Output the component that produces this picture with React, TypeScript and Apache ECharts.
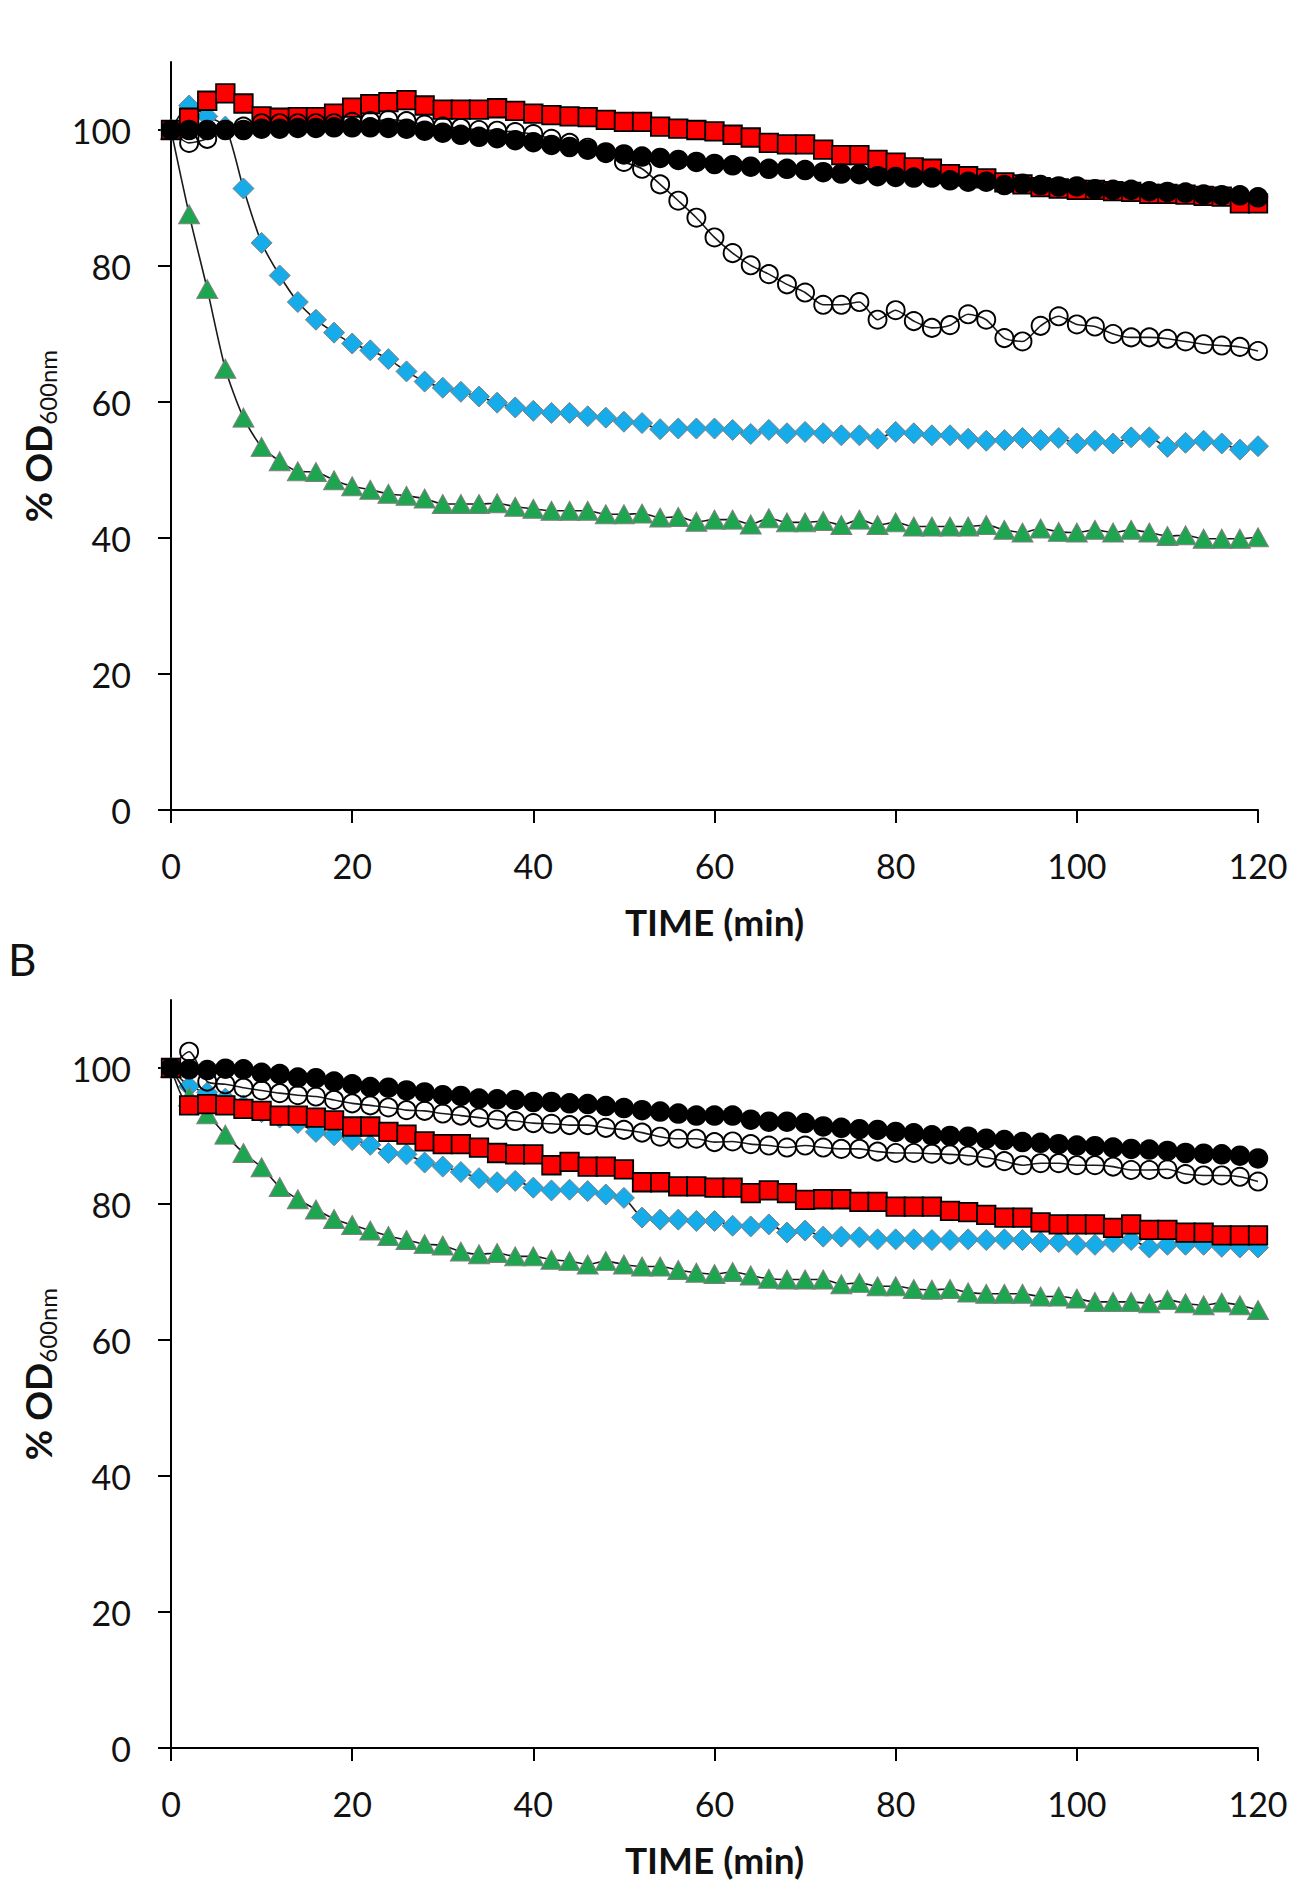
import React, { useEffect, useRef } from "react";
import * as echarts from "echarts";

const FONT = "Lato, 'Liberation Sans', sans-serif";

const TIME = [
  0, 2, 4, 6, 8, 10, 12, 14, 16, 18,
  20, 22, 24, 26, 28, 30, 32, 34, 36, 38,
  40, 42, 44, 46, 48, 50, 52, 54, 56, 58,
  60, 62, 64, 66, 68, 70, 72, 74, 76, 78,
  80, 82, 84, 86, 88, 90, 92, 94, 96, 98,
  100, 102, 104, 106, 108, 110, 112, 114, 116, 118,
  120,
];

const X_TICKS = [0, 20, 40, 60, 80, 100, 120];
const Y_TICKS = [0, 20, 40, 60, 80, 100];

// Panel A
const A_BLUE = [
  100, 103.6, 102.0, 100.5, 91.4, 83.4, 78.6, 74.7, 72.1, 70.2,
  68.6, 67.6, 66.3, 64.5, 63.0, 62.1, 61.5, 60.8, 59.9, 59.2,
  58.7, 58.4, 58.4, 57.9, 57.7, 57.1, 56.9, 56.0, 56.1, 56.1,
  56.1, 55.9, 55.3, 55.9, 55.4, 55.6, 55.4, 55.1, 55.1, 54.6,
  55.6, 55.4, 55.1, 55.1, 54.6, 54.3, 54.4, 54.7, 54.4, 54.7,
  53.9, 54.3, 53.9, 54.8, 54.8, 53.4, 54.0, 54.3, 53.9, 53.0,
  53.5,
];
const A_GREEN = [
  100, 87.6, 76.6, 64.9, 57.7, 53.4, 51.3, 49.8, 49.7, 48.5,
  47.6, 47.1, 46.5, 46.2, 45.8, 45.0, 45.0, 45.0, 45.1, 44.6,
  44.3, 44.0, 44.0, 44.0, 43.5, 43.5, 43.6, 43.0, 43.1, 42.4,
  42.7, 42.7, 42.0, 42.9, 42.3, 42.3, 42.5, 41.9, 42.7, 41.9,
  42.3, 41.7, 41.7, 41.7, 41.7, 41.9, 41.2, 40.8, 41.4, 40.9,
  40.8, 41.2, 40.8, 41.2, 40.8, 40.3, 40.4, 39.9, 39.9, 39.9,
  40.1,
];
const A_RED = [
  100, 101.8, 104.3, 105.4, 103.9, 102.0, 101.8, 101.9, 101.9, 102.4,
  103.3, 103.8, 104.1, 104.4, 103.6, 103.0, 103.0, 103.0, 103.2, 102.8,
  102.4, 102.2, 102.0, 101.9, 101.5, 101.2, 101.2, 100.5, 100.2, 100.0,
  99.8, 99.3, 98.9, 98.1, 97.9, 97.9, 97.1, 96.3, 96.3, 95.6,
  95.2, 94.5, 94.3, 93.5, 93.2, 92.9, 92.3, 92.0, 91.6, 91.4,
  91.2, 91.2, 91.0, 90.9, 90.6, 90.6, 90.5, 90.3, 90.2, 89.2,
  89.2,
];
const A_OPEN = [
  100, 98.1, 98.7, 100.0, 100.5, 101.0, 101.0, 101.0, 101.0, 101.0,
  101.2, 101.3, 101.5, 101.3, 100.8, 100.5, 100.3, 100.0, 99.9, 99.7,
  99.4, 98.7, 98.1, 97.4, 96.6, 95.3, 94.3, 92.0, 89.6, 87.1,
  84.2, 81.9, 80.1, 78.8, 77.3, 76.1, 74.3, 74.3, 74.7, 72.1,
  73.5, 71.9, 70.9, 71.3, 72.9, 72.1, 69.4, 68.9, 71.2, 72.6,
  71.4, 71.1, 70.0, 69.5, 69.5, 69.3, 68.9, 68.5, 68.3, 68.1,
  67.5,
];
const A_BLACK = [
  100, 100, 100, 100, 100, 100.2, 100.2, 100.3, 100.3, 100.4,
  100.4, 100.4, 100.3, 100.2, 99.9, 99.6, 99.3, 99.0, 98.8, 98.5,
  98.2, 97.8, 97.5, 97.1, 96.7, 96.4, 96.1, 95.9, 95.6, 95.3,
  95.0, 94.8, 94.6, 94.3, 94.3, 94.1, 93.8, 93.6, 93.5, 93.2,
  93.1, 93.0, 93.0, 92.6, 92.4, 92.4, 91.9, 92.1, 91.9, 91.7,
  91.7, 91.3, 91.2, 91.2, 91.0, 90.9, 90.8, 90.5, 90.4, 90.4,
  90.1,
];

// Panel B
const B_BLUE = [
  100, 97.3, 96.4, 95.5, 94.5, 93.5, 92.7, 91.9, 90.6, 90.1,
  89.4, 88.7, 87.5, 87.3, 86.1, 85.5, 84.7, 83.8, 83.2, 83.4,
  82.4, 82.0, 82.1, 81.9, 81.4, 80.9, 78.0, 77.7, 77.7, 77.5,
  77.5, 76.8, 76.7, 77.0, 75.8, 76.1, 75.2, 75.2, 75.1, 74.8,
  74.8, 74.8, 74.7, 74.7, 74.8, 74.7, 74.8, 74.7, 74.4, 74.4,
  74.0, 74.0, 74.4, 74.7, 73.6, 74.0, 74.0, 74.0, 73.7, 73.6,
  73.6,
];
const B_GREEN = [
  100, 95.8, 93.2, 90.2, 87.5, 85.4, 82.5, 80.7, 79.2, 77.8,
  76.9, 76.1, 75.3, 74.7, 74.1, 73.9, 73.0, 72.6, 72.8, 72.3,
  72.3, 71.8, 71.6, 71.1, 71.6, 71.1, 70.8, 70.8, 70.3, 69.9,
  69.7, 70.0, 69.5, 69.0, 68.9, 68.9, 68.9, 68.2, 68.4, 67.9,
  67.9, 67.5, 67.4, 67.5, 67.0, 66.8, 66.8, 66.8, 66.4, 66.4,
  66.1, 65.6, 65.6, 65.6, 65.4, 65.9, 65.4, 65.1, 65.5, 65.1,
  64.4,
];
const B_RED = [
  100, 94.5, 94.7, 94.5, 94.0, 93.7, 93.0, 93.0, 92.7, 92.3,
  91.4, 91.4, 90.6, 90.2, 89.2, 88.8, 88.8, 88.3, 87.5, 87.3,
  87.3, 85.7, 86.2, 85.5, 85.5, 85.1, 83.2, 83.2, 82.6, 82.6,
  82.4, 82.4, 81.6, 82.0, 81.6, 80.6, 80.7, 80.7, 80.3, 80.3,
  79.6, 79.6, 79.6, 79.0, 78.8, 78.4, 78.0, 78.0, 77.3, 77.0,
  77.0, 77.0, 76.5, 77.0, 76.2, 76.2, 75.8, 75.8, 75.4, 75.4,
  75.4,
];
const B_OPEN = [
  100, 102.4, 98.0, 97.6, 97.1, 96.7, 96.3, 96.0, 95.8, 95.3,
  94.8, 94.5, 94.2, 93.8, 93.7, 93.3, 93.0, 92.7, 92.4, 92.2,
  91.9, 91.8, 91.6, 91.6, 91.2, 90.9, 90.5, 89.9, 89.6, 89.6,
  89.1, 89.2, 88.8, 88.6, 88.3, 88.6, 88.3, 88.1, 88.1, 87.7,
  87.5, 87.5, 87.4, 87.3, 87.1, 86.8, 86.3, 85.7, 86.0, 86.0,
  85.7, 85.7, 85.5, 85.0, 85.0, 85.1, 84.4, 84.2, 84.2, 84.0,
  83.3,
];
const B_BLACK = [
  100, 99.8, 99.7, 99.9, 99.8, 99.3, 99.1, 98.6, 98.5, 98.0,
  97.6, 97.2, 97.1, 96.7, 96.4, 96.0, 95.9, 95.5, 95.4, 95.3,
  95.0, 95.0, 94.8, 94.7, 94.4, 94.1, 93.8, 93.6, 93.3, 93.0,
  93.0, 93.0, 92.4, 92.1, 92.1, 91.9, 91.4, 91.2, 91.0, 90.9,
  90.6, 90.4, 90.1, 90.0, 89.9, 89.6, 89.4, 89.1, 89.0, 88.8,
  88.6, 88.5, 88.3, 88.1, 88.0, 87.8, 87.5, 87.4, 87.3, 87.1,
  86.7,
];

const LINE = { color: "#1a1a1a", width: 1.6 };

const STYLES: Record<string, any> = {
  blue: {
    symbol: "diamond",
    symbolSize: [21, 21],
    itemStyle: { color: "#16ACEA", borderColor: "#7f7f7f", borderWidth: 1 },
  },
  green: {
    symbol: "triangle",
    symbolSize: [21, 19],
    itemStyle: { color: "#1EA54F", borderColor: "#7f7f7f", borderWidth: 1 },
  },
  red: {
    symbol: "rect",
    symbolSize: 18.5,
    itemStyle: { color: "#FF0000", borderColor: "#000", borderWidth: 1.8 },
  },
  open: {
    symbol: "circle",
    symbolSize: 18,
    itemStyle: { color: "rgba(255,255,255,0)", borderColor: "#000", borderWidth: 1.9 },
  },
  black: {
    symbol: "circle",
    symbolSize: 20.5,
    itemStyle: { color: "#000", borderColor: "#000", borderWidth: 0 },
  },
};

function makeSeries(name: string, values: number[], idx: number, key: string, z: number) {
  const s = STYLES[key];
  return {
    name,
    type: "line",
    xAxisIndex: idx,
    yAxisIndex: idx,
    data: TIME.map((t, i) => [t, values[i]]),
    symbol: s.symbol,
    symbolSize: s.symbolSize,
    showAllSymbol: true,
    itemStyle: s.itemStyle,
    lineStyle: LINE,
    smooth: 0.25,
    clip: false,
    z,
    emphasis: { disabled: true },
  };
}

function xAxis(idx: number) {
  return {
    gridIndex: idx,
    type: "value",
    min: 0,
    max: 120,
    interval: 20,
    axisLine: { show: true, onZero: false, lineStyle: { color: "#000", width: 2 } },
    axisTick: {
      show: true,
      inside: false,
      length: 13,
      customValues: X_TICKS,
      lineStyle: { color: "#000", width: 2 },
    },
    axisLabel: {
      show: true,
      customValues: X_TICKS,
      fontSize: 34,
      color: "#111",
      margin: 38,
      fontFamily: FONT,
    },
    splitLine: { show: false },
    name: "TIME (min)",
    nameLocation: "middle",
    nameGap: 93,
    nameTextStyle: { fontSize: 37, fontWeight: "bold", color: "#111", fontFamily: FONT },
  };
}

function yAxis(idx: number) {
  return {
    gridIndex: idx,
    type: "value",
    min: 0,
    max: 110,
    interval: 20,
    axisLine: { show: true, onZero: false, lineStyle: { color: "#000", width: 2 } },
    axisTick: {
      show: true,
      inside: false,
      length: 13,
      customValues: Y_TICKS,
      lineStyle: { color: "#000", width: 2 },
    },
    axisLabel: {
      show: true,
      customValues: Y_TICKS,
      fontSize: 34,
      color: "#111",
      margin: 40,
      fontFamily: FONT,
    },
    splitLine: { show: false },
    name: "{b|% OD}{s|600nm}",
    nameLocation: "middle",
    nameRotate: 90,
    nameGap: 112,
    nameTextStyle: {
      color: "#111",
      fontFamily: FONT,
      rich: {
        b: { fontSize: 37, fontWeight: "bold", fontFamily: FONT, color: "#111", lineHeight: 44, verticalAlign: "middle" },
        s: { fontSize: 24, fontFamily: FONT, color: "#111", lineHeight: 24, verticalAlign: "bottom" },
      },
    },
  };
}

export default function App() {
  const ref = useRef<HTMLDivElement>(null);
  useEffect(() => {
    document.body.style.margin = "0";
    if (!ref.current) return;
    const chart = echarts.init(ref.current, undefined, { renderer: "svg" });
    chart.setOption({
      animation: false,
      backgroundColor: "#fff",
      grid: [
        { left: 171, top: 62, width: 1087, height: 748, containLabel: false },
        { left: 171, top: 1000, width: 1087, height: 748, containLabel: false },
      ],
      xAxis: [xAxis(0), xAxis(1)],
      yAxis: [yAxis(0), yAxis(1)],
      graphic: [
        {
          type: "text",
          x: 8,
          y: 959,
          style: { text: "B", fontSize: 44, fontFamily: FONT, fill: "#111", verticalAlign: "middle", align: "left" },
        },
      ],
      series: [
        makeSeries("A blue", A_BLUE, 0, "blue", 2),
        makeSeries("A green", A_GREEN, 0, "green", 3),
        makeSeries("A red", A_RED, 0, "red", 4),
        makeSeries("A open", A_OPEN, 0, "open", 5),
        makeSeries("A black", A_BLACK, 0, "black", 6),
        makeSeries("B blue", B_BLUE, 1, "blue", 2),
        makeSeries("B green", B_GREEN, 1, "green", 3),
        makeSeries("B red", B_RED, 1, "red", 4),
        makeSeries("B open", B_OPEN, 1, "open", 5),
        makeSeries("B black", B_BLACK, 1, "black", 6),
      ],
    });
    return () => chart.dispose();
  }, []);
  return <div ref={ref} style={{ width: 1300, height: 1890 }} />;
}
